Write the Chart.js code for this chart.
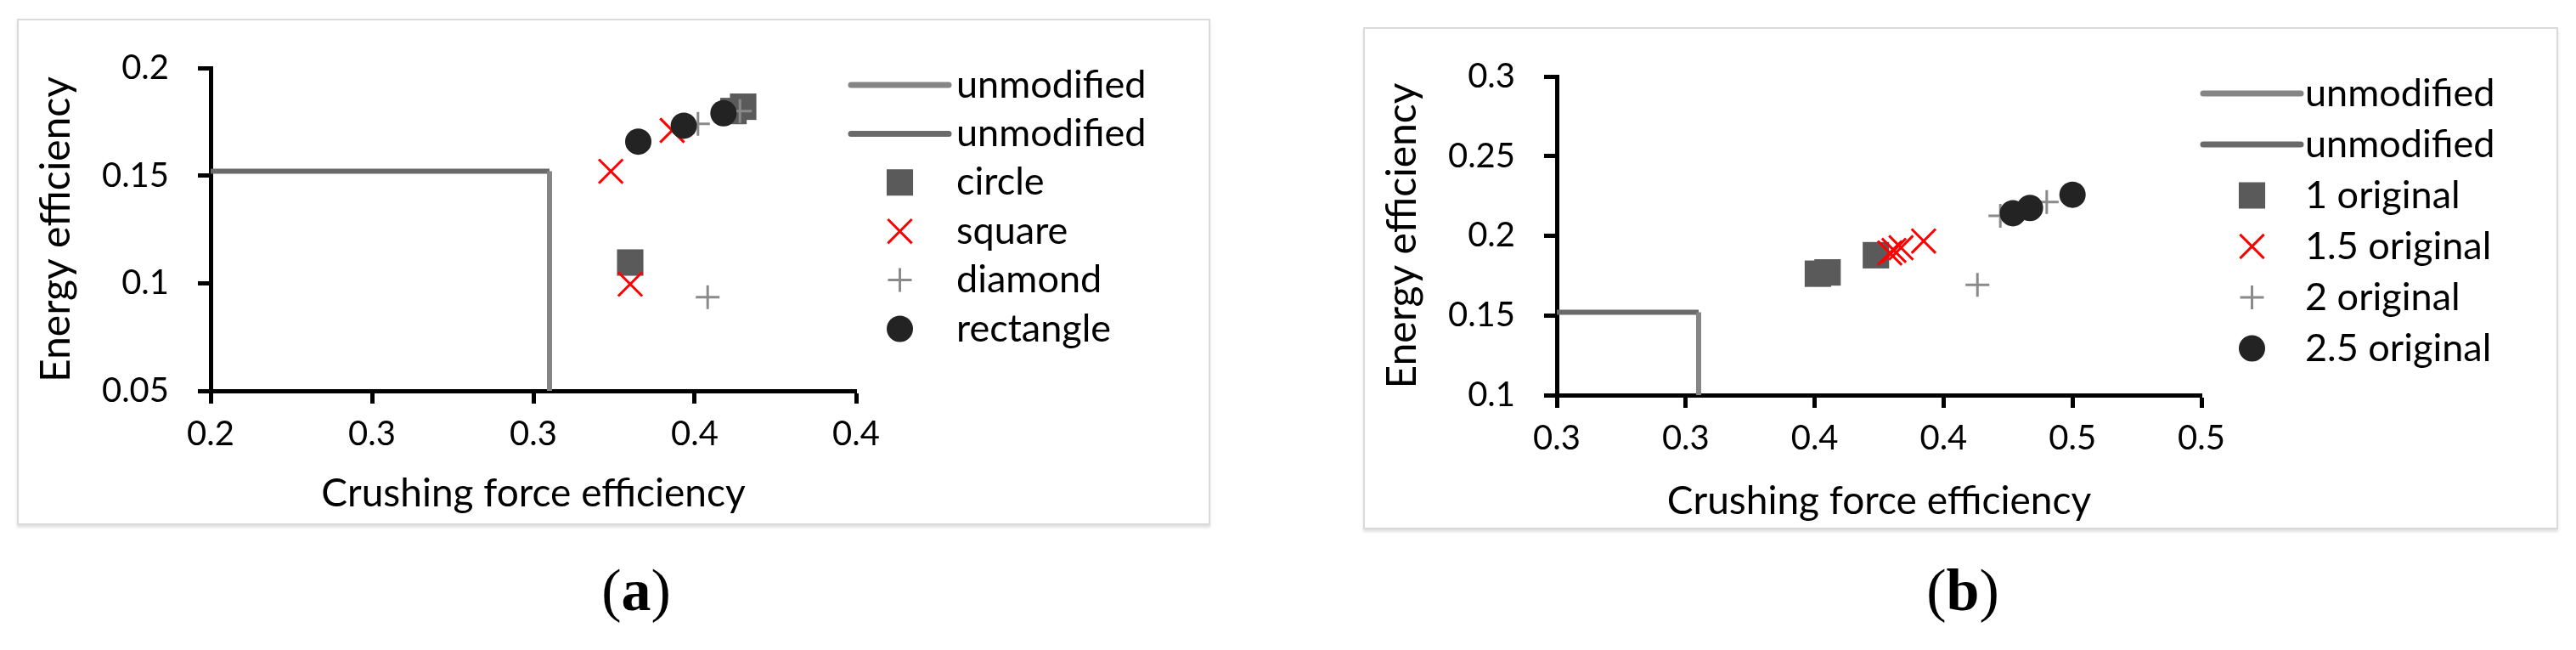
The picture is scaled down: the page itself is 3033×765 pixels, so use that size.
<!DOCTYPE html>
<html>
<head>
<meta charset="utf-8">
<title>Crushing force efficiency vs energy efficiency</title>
<script src="https://cdn.jsdelivr.net/npm/chart.js@4.4.1/dist/chart.umd.min.js"></script>
<style>
  html, body { margin: 0; padding: 0; background: #fff; }
  body { width: 3033px; height: 765px; position: relative; overflow: hidden; }
  .frame { position: absolute; box-sizing: border-box; border: 2px solid #dadada; box-shadow: 0 3px 3px rgba(0,0,0,0.12); background: #fff; }
  canvas { position: absolute; }
  .caption { position: absolute; top: 655px; width: 200px; text-align: center; font-family: 'Liberation Serif', 'DejaVu Serif', serif; font-size: 70px; color: #000; }
</style>
</head>
<body>
<div class="frame" style="left:20px;top:22px;width:1405px;height:596px;"></div>
<div class="frame" style="left:1605px;top:32px;width:1407px;height:591px;"></div>
<canvas id="chartA" width="1405" height="596" style="left:20px;top:22px;"></canvas>
<canvas id="chartB" width="1407" height="591" style="left:1605px;top:32px;"></canvas>
<div class="caption" style="left:649px;">(<b>a</b>)</div>
<div class="caption" style="left:2211px;">(<b>b</b>)</div>

<script>
// ---- panel (a): cross-section shape ----
const xTicksA = [0.2, 0.25, 0.3, 0.35, 0.4];
const xTickLabelsA = ['0.2', '0.3', '0.3', '0.4', '0.4'];
const yTicksA = [0.05, 0.1, 0.15, 0.2];
const yTickLabelsA = ['0.05', '0.1', '0.15', '0.2'];
const namesA = ['unmodified', 'unmodified', 'circle', 'square', 'diamond', 'rectangle'];

// unmodified reference: vertical and horizontal segments
const unmodVertXA = [0.305, 0.305];
const unmodVertYA = [0.152, 0.05];
const unmodHorzXA = [0.2, 0.305];
const unmodHorzYA = [0.152, 0.152];

const circleXA = [0.330, 0.362, 0.365];
const circleYA = [0.1096, 0.180, 0.182];
const squareXA = [0.324, 0.343, 0.330];
const squareYA = [0.152, 0.171, 0.0996];
const diamondXA = [0.354, 0.351, 0.364];
const diamondYA = [0.0935, 0.174, 0.180];
const rectangleXA = [0.3325, 0.3466, 0.3589];
const rectangleYA = [0.1658, 0.1732, 0.179];

// ---- panel (b): size ratio ----
const xTicksB = [0.3, 0.34, 0.38, 0.42, 0.46, 0.5];
const xTickLabelsB = ['0.3', '0.3', '0.4', '0.4', '0.5', '0.5'];
const yTicksB = [0.1, 0.15, 0.2, 0.25, 0.3];
const yTickLabelsB = ['0.1', '0.15', '0.2', '0.25', '0.3'];
const namesB = ['unmodified', 'unmodified', '1 original', '1.5 original', '2 original', '2.5 original'];

const unmodVertXB = [0.344, 0.344];
const unmodVertYB = [0.152, 0.1];
const unmodHorzXB = [0.3, 0.344];
const unmodHorzYB = [0.152, 0.152];

const ratio1XB = [0.381, 0.384, 0.399];
const ratio1YB = [0.1762, 0.177, 0.1878];
const ratio15XB = [0.4033, 0.4046, 0.4068, 0.4138];
const ratio15YB = [0.1892, 0.1908, 0.1925, 0.1967];
const ratio2XB = [0.4305, 0.4376, 0.452];
const ratio2YB = [0.1692, 0.2125, 0.2212];
const ratio25XB = [0.4415, 0.4468, 0.46];
const ratio25YB = [0.2142, 0.2175, 0.2258];

const FONT = 'Lato, "Open Sans", sans-serif';

function pts(xs, ys) {
    return xs.map((x, i) => ({ x: x, y: ys[i] }));
}

// marker styles, in the order of the four point series
const markerStyles = [
    { pointStyle: 'rect', pointRadius: 22, color: '#5a5a5a', width: 0 },
    { pointStyle: 'crossRot', pointRadius: 20, color: '#ff0000', width: 3 },
    { pointStyle: 'cross', pointRadius: 14, color: '#8a8a8a', width: 3 },
    { pointStyle: 'circle', pointRadius: 15.5, color: '#232323', width: 0 }
];

function buildDatasets(names, vert, horz, series) {
    const lines = [
        { label: names[0], data: vert, borderColor: '#858585' },
        { label: names[1], data: horz, borderColor: '#6a6a6a' }
    ].map(d => Object.assign(d, {
        showLine: true, borderWidth: 6, pointRadius: 0, order: 20
    }));
    const points = series.map((data, i) => {
        const m = markerStyles[i];
        return {
            label: names[i + 2],
            data: data,
            showLine: false,
            pointStyle: m.pointStyle,
            pointRadius: m.pointRadius,
            pointHoverRadius: m.pointRadius,
            pointBackgroundColor: m.color,
            pointBorderColor: m.color,
            pointBorderWidth: m.width,
            order: 10 - i   // later series on top, like Excel
        };
    });
    return lines.concat(points);
}

// legend drawn at the right side of each panel
const sideLegend = {
    id: 'sideLegend',
    afterDraw(chart, args, opts) {
        const ctx = chart.ctx;
        ctx.save();
        ctx.font = opts.fontSize + 'px ' + FONT;
        ctx.textBaseline = 'middle';
        ctx.textAlign = 'left';
        chart.data.datasets.forEach((ds, i) => {
            const y = opts.top + i * opts.rowGap;
            if (ds.showLine) {
                ctx.strokeStyle = ds.borderColor;
                ctx.lineWidth = 7;
                ctx.lineCap = 'round';
                ctx.beginPath();
                ctx.moveTo(opts.left, y);
                ctx.lineTo(opts.left + opts.lineLen, y);
                ctx.stroke();
            } else {
                ctx.fillStyle = ds.pointBackgroundColor;
                ctx.strokeStyle = ds.pointBorderColor;
                ctx.lineWidth = ds.pointBorderWidth;
                ctx.lineCap = 'butt';
                Chart.helpers.drawPoint(ctx, {
                    pointStyle: ds.pointStyle,
                    radius: ds.pointRadius,
                    borderWidth: ds.pointBorderWidth,
                    rotation: 0
                }, opts.left + opts.lineLen / 2, y);
            }
            ctx.fillStyle = '#000';
            ctx.fillText(ds.label, opts.textX, y);
        });
        ctx.restore();
    }
};

function axisStyle() {
    return {
        border: { display: true, color: '#000', width: 5 },
        grid: { display: true, drawOnChartArea: false, drawTicks: true, tickLength: 15, tickWidth: 5, tickColor: '#000' }
    };
}

function buildScales(xTicks, xLabels, yTicks, yLabels, xTitlePad) {
    return {
        x: Object.assign({
            type: 'linear',
            position: 'bottom',
            min: xTicks[0],
            max: xTicks[xTicks.length - 1],
            afterBuildTicks: s => { s.ticks = xTicks.map(v => ({ value: v })); },
            afterFit: s => { s.height = 158; },
            ticks: {
                callback: (v, i) => xLabels[i],
                autoSkip: false, maxRotation: 0,
                color: '#000', padding: 12,
                font: { family: FONT, size: 40 }
            },
            title: {
                display: true, text: 'Crushing force efficiency', color: '#000',
                font: { family: FONT, size: 46 },
                padding: { top: 0, bottom: xTitlePad }
            }
        }, axisStyle()),
        y: Object.assign({
            type: 'linear',
            position: 'left',
            min: yTicks[0],
            max: yTicks[yTicks.length - 1],
            afterBuildTicks: s => { s.ticks = yTicks.map(v => ({ value: v })); },
            afterFit: s => { s.width = 228; },
            ticks: {
                callback: (v, i) => yLabels[i],
                color: '#000', padding: 34,
                font: { family: FONT, size: 40 }
            },
            title: {
                display: true, text: 'Energy efficiency', color: '#000',
                font: { family: FONT, size: 48 },
                padding: { top: 18, bottom: 0 }
            }
        }, axisStyle())
    };
}

function makeChart(id, datasets, scales, padding, legendOpts) {
    return new Chart(document.getElementById(id), {
        type: 'scatter',
        data: { datasets: datasets },
        options: {
            responsive: false,
            animation: false,
            events: [],
            layout: { padding: padding },
            scales: scales,
            plugins: {
                legend: { display: false },
                tooltip: { enabled: false },
                sideLegend: legendOpts
            }
        },
        plugins: [sideLegend]
    });
}

makeChart('chartA',
    buildDatasets(namesA, pts(unmodVertXA, unmodVertYA), pts(unmodHorzXA, unmodHorzYA), [
        pts(circleXA, circleYA), pts(squareXA, squareYA),
        pts(diamondXA, diamondYA), pts(rectangleXA, rectangleYA)
    ]),
    buildScales(xTicksA, xTickLabelsA, yTicksA, yTickLabelsA, 9),
    { top: 31, left: 0, right: 417, bottom: 0 },
    { left: 982, lineLen: 115, textX: 1106, top: 78, rowGap: 57.4, fontSize: 45 }
);

makeChart('chartB',
    buildDatasets(namesB, pts(unmodVertXB, unmodVertYB), pts(unmodHorzXB, unmodHorzYB), [
        pts(ratio1XB, ratio1YB), pts(ratio15XB, ratio15YB),
        pts(ratio2XB, ratio2YB), pts(ratio25XB, ratio25YB)
    ]),
    buildScales(xTicksB, xTickLabelsB, yTicksB, yTickLabelsB, 5),
    { top: 33, left: 0, right: 420, bottom: 0 },
    { left: 989, lineLen: 115, textX: 1109, top: 78, rowGap: 60, fontSize: 45 }
);
</script>
</body>
</html>
